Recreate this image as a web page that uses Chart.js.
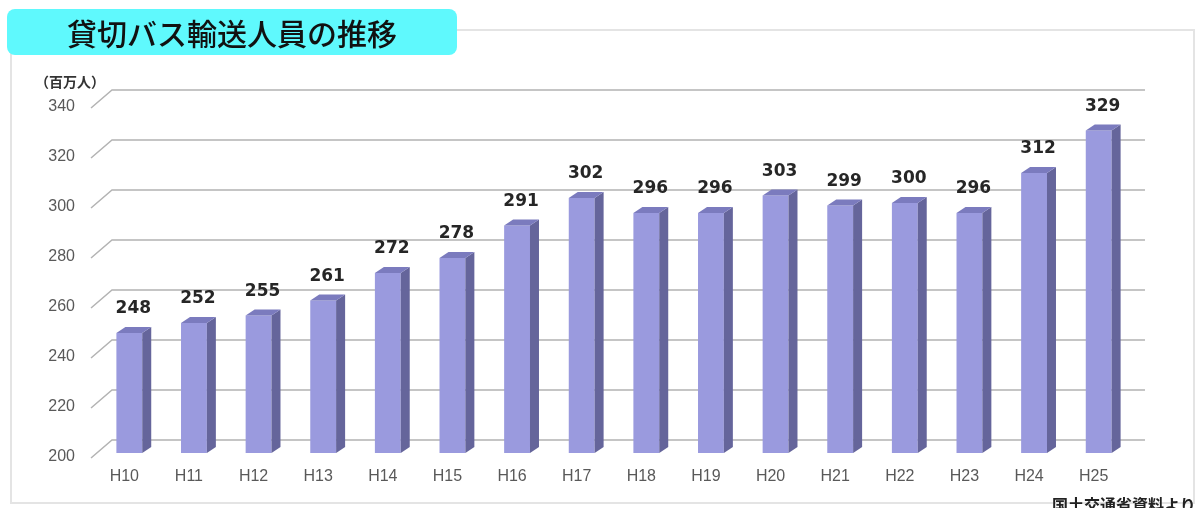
<!DOCTYPE html>
<html lang="ja">
<head>
<meta charset="utf-8">
<title>貸切バス輸送人員の推移</title>
<script src="https://cdn.jsdelivr.net/npm/chart.js@4/dist/chart.umd.min.js"></script>
<style>
  body { margin: 0; background: #fff; }
  #wrap { position: relative; width: 1200px; height: 508px; overflow: hidden; }
  #frame {
    position: absolute; left: 10px; top: 29px; width: 1181px; height: 471px;
    border: 2px solid #e4e4e4;
  }
  #title {
    position: absolute; left: 7px; top: 9px; width: 450px; height: 46px;
    background: #5ff9fd; border-radius: 8px;
    font: 500 30px "Noto Sans CJK JP", sans-serif; color: #111;
    text-align: center; line-height: 46px;
  }
  #unit {
    position: absolute; left: 35px; top: 71px;
    font: bold 14px "Noto Sans CJK JP", sans-serif; color: #333;
  }
  #source {
    position: absolute; left: 1052px; top: 492px;
    font: bold 16px "Noto Sans CJK JP", sans-serif; color: #222;
    white-space: nowrap;
  }
  canvas { position: absolute; left: 0; top: 0; }
</style>
</head>
<body>
<div id="wrap">
  <div id="frame"></div>
  <canvas id="busChart" width="1200" height="508"></canvas>
  <div id="title">貸切バス輸送人員の推移</div>
  <div id="unit">（百万人）</div>
  <div id="source">国土交通省資料より</div>
</div>
<script>
// data (百万人)
const years = ["H10", "H11", "H12", "H13", "H14", "H15", "H16", "H17",
  "H18", "H19", "H20", "H21", "H22", "H23", "H24", "H25"];
const passengers = [248, 252, 255, 261, 272, 278, 291, 302,
  296, 296, 303, 299, 300, 296, 312, 329];
const yMin = 200;
const yMax = 340;
const yStep = 20;

// 3D depth of the bars / back wall
const DEPTH_X = 9, DEPTH_Y = 6;

// back wall gridlines with slanted floor ticks
const wallGrid = {
  id: "wallGrid",
  beforeDatasetsDraw(chart) {
    const { ctx, chartArea } = chart;
    const y = chart.scales.y;
    ctx.save();
    ctx.strokeStyle = "#b3b3b3";
    ctx.lineWidth = 1.5;
    y.ticks.forEach(t => {
      const py = y.getPixelForValue(t.value);
      ctx.beginPath();
      ctx.moveTo(chartArea.left - 6, py + 5);
      ctx.lineTo(chartArea.left + 15, py - 13);
      ctx.lineTo(chartArea.right + 14, py - 13);
      ctx.stroke();
    });
    ctx.restore();
  }
};

// side + top faces, then value labels
const bar3d = {
  id: "bar3d",
  afterDatasetsDraw(chart) {
    const { ctx } = chart;
    const meta = chart.getDatasetMeta(0);
    const base = chart.scales.y.getPixelForValue(yMin);
    ctx.save();
    meta.data.forEach(bar => {
      const left = bar.x - bar.width / 2;
      const right = bar.x + bar.width / 2;
      const top = bar.y;

      ctx.fillStyle = "#65659b";
      ctx.beginPath();
      ctx.moveTo(right, top);
      ctx.lineTo(right + DEPTH_X, top - DEPTH_Y);
      ctx.lineTo(right + DEPTH_X, base - DEPTH_Y);
      ctx.lineTo(right, base);
      ctx.closePath();
      ctx.fill();

      ctx.fillStyle = "#7b7bbe";
      ctx.beginPath();
      ctx.moveTo(left, top);
      ctx.lineTo(left + DEPTH_X, top - DEPTH_Y);
      ctx.lineTo(right + DEPTH_X, top - DEPTH_Y);
      ctx.lineTo(right, top);
      ctx.closePath();
      ctx.fill();
    });

    ctx.fillStyle = "#262626";
    ctx.font = "bold 17px 'DejaVu Sans', sans-serif";
    ctx.textAlign = "center";
    ctx.textBaseline = "middle";
    meta.data.forEach((bar, i) => {
      ctx.fillText(String(passengers[i]), bar.x + 4, bar.y - 24);
    });
    ctx.restore();
  }
};

const ctx = document.getElementById("busChart").getContext("2d");
const busChart = new Chart(ctx, {
  type: "bar",
  data: {
    labels: years,
    datasets: [{
      data: passengers,
      backgroundColor: "#9a9ade",
      borderWidth: 0,
      categoryPercentage: 1,
      barPercentage: 0.4
    }]
  },
  options: {
    responsive: false,
    animation: false,
    layout: { padding: { top: 103, right: 69, left: 0, bottom: 0 } },
    plugins: { legend: { display: false }, tooltip: { enabled: false } },
    scales: {
      x: {
        grid: { display: false, drawTicks: false },
        border: { display: false },
        ticks: {
          color: "#595959",
          font: { family: "'Liberation Sans', Arial, sans-serif", size: 16 },
          padding: 14,
          labelOffset: -5,
          maxRotation: 0
        },
        afterFit(scale) { scale.height = 55; }
      },
      y: {
        min: yMin,
        max: yMax,
        grid: { display: false, drawTicks: false },
        border: { display: false },
        ticks: {
          stepSize: yStep,
          color: "#595959",
          font: { family: "'Liberation Sans', Arial, sans-serif", size: 16 },
          padding: 22,
          labelOffset: 4
        },
        afterFit(scale) { scale.width = 97; }
      }
    }
  },
  plugins: [wallGrid, bar3d]
});
</script>
</body>
</html>
